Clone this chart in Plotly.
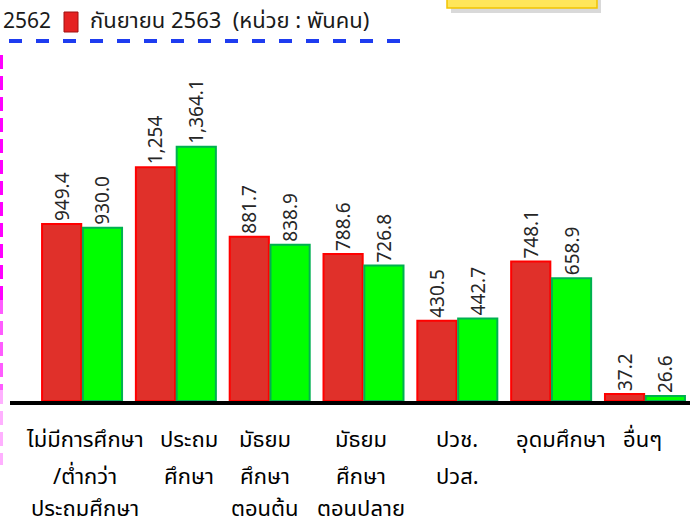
import plotly.graph_objects as go

# ---------------- data ----------------
categories = [
    ["ไม่มีการศึกษา", "/ต่ำกว่า", "ประถมศึกษา"],
    ["ประถม", "ศึกษา"],
    ["มัธยม", "ศึกษา", "ตอนต้น"],
    ["มัธยม", "ศึกษา", "ตอนปลาย"],
    ["ปวช.", "ปวส."],
    ["อุดมศึกษา"],
    ["อื่นๆ"],
]
series_red_name = "กันยายน 2563"
series_green_name = "กันยายน 2562"
red_values = [949.4, 1254.0, 881.7, 788.6, 430.5, 748.1, 37.2]
green_values = [930.0, 1364.1, 838.9, 726.8, 442.7, 658.9, 26.6]
red_labels = ["949.4", "1,254", "881.7", "788.6", "430.5", "748.1", "37.2"]
green_labels = ["930.0", "1,364.1", "838.9", "726.8", "442.7", "658.9", "26.6"]
unit_text = "(หน่วย : พันคน)"

# ---------------- layout helpers ----------------
W, H = 690, 529
ML, MR, MT, MB = 10, 0, 45, 128
PW, PH = W - ML - MR, H - MT - MB


def px2x(px):
    return (px - ML) / PW


def py2y(py):
    return (H - MB - py) / PH


THAI = "Noto Sans Thai, Tahoma, Noto Sans, sans-serif"
NUM = "Noto Sans, DejaVu Sans, sans-serif"

xs = list(range(len(categories)))

fig = go.Figure()
fig.add_trace(go.Bar(
    x=xs, y=red_values, name=series_red_name,
    text=red_labels, textposition="outside", textangle=-90,
    constraintext="none", cliponaxis=False,
    textfont=dict(family=NUM, size=19, color="#262626"),
    marker=dict(color="#E0302A", line=dict(color="#FF0000", width=2)),
))
fig.add_trace(go.Bar(
    x=xs, y=green_values, name=series_green_name,
    text=green_labels, textposition="outside", textangle=-90,
    constraintext="none", cliponaxis=False,
    textfont=dict(family=NUM, size=19, color="#262626"),
    marker=dict(color="#00FF00", line=dict(color="#00B050", width=2)),
))

shapes = []
# yellow callout (partial, top right)
shapes.append(dict(type="rect", xref="paper", yref="paper",
                   x0=px2x(451), x1=px2x(601), y0=py2y(13), y1=py2y(-20),
                   fillcolor="rgba(0,0,0,0.15)", line=dict(width=0), layer="above"))
shapes.append(dict(type="rect", xref="paper", yref="paper",
                   x0=px2x(447), x1=px2x(597), y0=py2y(8), y1=py2y(-20),
                   fillcolor="#FFE65A", line=dict(color="#F2C400", width=1.5), layer="above"))
# blue dashed line under the legend
shapes.append(dict(type="line", xref="paper", yref="paper",
                   x0=px2x(9), x1=px2x(402), y0=py2y(41), y1=py2y(41),
                   line=dict(color="#1E3CF0", width=4, dash="13px,14px")))
# magenta dashed vertical line at left, fading downwards
for (a, b, c) in [(55, 300, "#FF00FF"), (300, 390, "#FF5CFF"), (390, 465, "#FFB0FF")]:
    shapes.append(dict(type="line", xref="paper", yref="paper",
                       x0=px2x(1.5), x1=px2x(1.5), y0=py2y(a), y1=py2y(b),
                       line=dict(color=c, width=3, dash="14px,7px")))
# legend swatch
shapes.append(dict(type="rect", xref="paper", yref="paper",
                   x0=px2x(64), x1=px2x(78), y0=py2y(32), y1=py2y(12),
                   fillcolor="#E52222", line=dict(color="#A01010", width=1)))

annotations = []
# only the visible tail of the first legend entry is shown in the reference crop
annotations.append(dict(xref="paper", yref="paper", x=px2x(1), y=py2y(22),
                        xanchor="left", yanchor="middle", showarrow=False,
                        text=series_green_name.split(" ")[-1],
                        font=dict(family=THAI, size=21, color="#1a1a1a")))
annotations.append(dict(xref="paper", yref="paper", x=px2x(88), y=py2y(22),
                        xanchor="left", yanchor="middle", showarrow=False,
                        text=series_red_name + "  " + unit_text,
                        font=dict(family=THAI, size=22, color="#1a1a1a")))

label_dx = [3, 13, -5, -3, 0, 10, -2]
line_py = [440, 477, 510]
for i, lines in enumerate(categories):
    for j, t in enumerate(lines):
        annotations.append(dict(xref="x", yref="paper", x=xs[i], y=py2y(line_py[j]),
                                xanchor="center", yanchor="middle", showarrow=False,
                                xshift=label_dx[i], text=t,
                                font=dict(family=THAI, size=22, color="#000000")))

fig.update_layout(
    width=W, height=H,
    margin=dict(l=ML, r=MR, t=MT, b=MB),
    paper_bgcolor="white", plot_bgcolor="white",
    barmode="group", bargap=0.13, bargroupgap=0.04,
    showlegend=False,
    shapes=shapes, annotations=annotations,
    xaxis=dict(range=[-0.768, 6.48], showticklabels=False, ticks="",
               showgrid=False, zeroline=False,
               showline=True, linecolor="black", linewidth=4),
    yaxis=dict(range=[0, 1910], visible=False, showgrid=False, zeroline=False),
)

fig.write_html("out.html", config={"displayModeBar": False},
               post_script="document.body.style.margin='0px';")
